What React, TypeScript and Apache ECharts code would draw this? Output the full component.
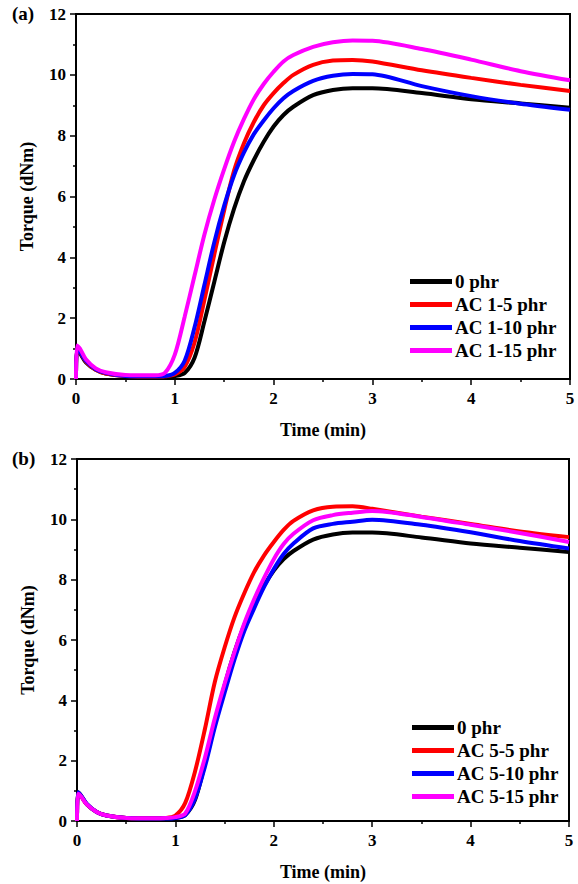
import React, { useEffect, useRef } from "react";
import * as echarts from "echarts";

const timeMin = [0, 0.01, 0.04, 0.1, 0.2, 0.3, 0.5, 0.8, 0.9, 1.0, 1.1, 1.2, 1.3, 1.4, 1.5, 1.6, 1.7, 1.8, 1.9, 2.0, 2.1, 2.2, 2.4, 2.6, 2.8, 3.0, 3.5, 4.0, 4.5, 5.0];

const zeroPhr = [0, 0.95, 0.85, 0.55, 0.3, 0.18, 0.1, 0.08, 0.08, 0.1, 0.2, 0.7, 1.9, 3.2, 4.5, 5.6, 6.5, 7.2, 7.8, 8.3, 8.68, 8.95, 9.33, 9.5, 9.56, 9.56, 9.4, 9.2, 9.06, 8.92];
const ac1_5 = [0, 1.0, 0.9, 0.58, 0.3, 0.18, 0.1, 0.08, 0.09, 0.15, 0.4, 1.2, 2.6, 4.1, 5.55, 6.85, 7.75, 8.45, 9.0, 9.4, 9.73, 10.0, 10.33, 10.47, 10.49, 10.44, 10.15, 9.9, 9.67, 9.47];
const ac1_10 = [0, 1.0, 0.9, 0.6, 0.32, 0.2, 0.1, 0.09, 0.1, 0.2, 0.6, 1.7, 3.1, 4.5, 5.7, 6.7, 7.45, 8.05, 8.5, 8.9, 9.23, 9.47, 9.8, 9.97, 10.03, 10.02, 9.63, 9.3, 9.05, 8.85];
const ac1_15 = [0, 1.1, 1.0, 0.65, 0.35, 0.22, 0.13, 0.12, 0.2, 0.8, 2.05, 3.4, 4.75, 5.9, 6.9, 7.8, 8.55, 9.2, 9.7, 10.1, 10.44, 10.65, 10.92, 11.07, 11.13, 11.12, 10.85, 10.5, 10.12, 9.82];

const ac5_5 = [0, 0.9, 0.82, 0.55, 0.3, 0.18, 0.1, 0.09, 0.1, 0.18, 0.6, 1.65, 3.05, 4.6, 5.75, 6.75, 7.55, 8.25, 8.8, 9.25, 9.65, 9.95, 10.3, 10.42, 10.43, 10.35, 10.09, 9.85, 9.6, 9.41];
const ac5_10 = [0, 0.95, 0.85, 0.57, 0.3, 0.18, 0.1, 0.08, 0.08, 0.1, 0.2, 0.75, 1.8, 3.1, 4.25, 5.35, 6.3, 7.05, 7.75, 8.35, 8.85, 9.2, 9.7, 9.85, 9.92, 9.99, 9.82, 9.57, 9.28, 9.03];
const ac5_15 = [0, 0.9, 0.82, 0.55, 0.3, 0.18, 0.1, 0.09, 0.1, 0.13, 0.25, 1.0, 2.1, 3.4, 4.55, 5.6, 6.55, 7.35, 8.05, 8.68, 9.18, 9.52, 9.97, 10.14, 10.22, 10.28, 10.08, 9.82, 9.55, 9.25];

const namesA = ["0 phr", "AC 1-5 phr", "AC 1-10 phr", "AC 1-15 phr"];
const namesB = ["0 phr", "AC 5-5 phr", "AC 5-10 phr", "AC 5-15 phr"];
const colors = ["#000000", "#ff0000", "#0000ff", "#ff00ff"];

const FONT = "'Liberation Serif', 'Times New Roman', serif";

function pairs(vals: number[]) {
  return timeMin.map((t, i) => [t, vals[i]]);
}

export default function App() {
  const ref = useRef<HTMLDivElement>(null);
  useEffect(() => {
    if (!ref.current) return;
    const chart = echarts.init(ref.current, null, { renderer: "svg" });
    const axisLabel = { color: "#000", fontFamily: FONT, fontWeight: "bold", fontSize: 17 };
    const nameStyle = { color: "#000", fontFamily: FONT, fontWeight: "bold", fontSize: 18 };
    const mkX = (gi: number) => ({
      type: "value",
      gridIndex: gi,
      min: 0,
      max: 5,
      interval: 1,
      name: "Time (min)",
      nameLocation: "middle",
      nameGap: 42,
      nameTextStyle: nameStyle,
      axisLine: { show: true, onZero: false, lineStyle: { color: "#000", width: 2 } },
      axisTick: { show: true, inside: false, length: 6, lineStyle: { color: "#000", width: 1.5 } },
      minorTick: { show: true, splitNumber: 2, length: 3, lineStyle: { color: "#000", width: 1.5 } },
      splitLine: { show: false },
      axisLabel: { ...axisLabel, margin: 11 },
    });
    const mkY = (gi: number) => ({
      type: "value",
      gridIndex: gi,
      min: 0,
      max: 12,
      interval: 2,
      name: "Torque (dNm)",
      nameLocation: "middle",
      nameGap: 40,
      nameTextStyle: nameStyle,
      axisLine: { show: true, onZero: false, lineStyle: { color: "#000", width: 2 } },
      axisTick: { show: true, inside: false, length: 6, lineStyle: { color: "#000", width: 1.5 } },
      minorTick: { show: true, splitNumber: 2, length: 3, lineStyle: { color: "#000", width: 1.5 } },
      splitLine: { show: false },
      axisLabel: { ...axisLabel, margin: 10 },
    });
    const mkSeries = (vals: number[][], names: string[], axis: number) =>
      vals.map((v, i) => ({
        type: "line",
        name: names[i],
        xAxisIndex: axis,
        yAxisIndex: axis,
        data: pairs(v),
        showSymbol: false,
        smooth: 0.3,
        lineStyle: { color: colors[i], width: 4 },
        itemStyle: { color: colors[i] },
      }));
    const legendBase = {
      orient: "vertical",
      icon: "rect",
      itemWidth: 42,
      itemHeight: 5,
      itemGap: 4,
      textStyle: { color: "#000", fontFamily: FONT, fontWeight: "bold", fontSize: 19, padding: [0, 0, 0, -2] },
      selectedMode: false,
    };
    chart.setOption({
      animation: false,
      backgroundColor: "#fff",
      grid: [
        { left: 76, top: 14, width: 494, height: 365, show: true, borderColor: "#000", borderWidth: 2, backgroundColor: "transparent" },
        { left: 77, top: 459, width: 492, height: 362, show: true, borderColor: "#000", borderWidth: 2, backgroundColor: "transparent" },
      ],
      xAxis: [mkX(0), mkX(1)],
      yAxis: [mkY(0), mkY(1)],
      legend: [
        { ...legendBase, data: namesA, left: 405, top: 267 },
        { ...legendBase, data: namesB, left: 407, top: 713 },
      ],
      graphic: [
        { type: "text", left: 12, top: 4, style: { text: "(a)", font: `bold 19px ${FONT}`, fill: "#000" } },
        { type: "text", left: 12, top: 449, style: { text: "(b)", font: `bold 19px ${FONT}`, fill: "#000" } },
      ],
      series: [
        ...mkSeries([zeroPhr, ac1_5, ac1_10, ac1_15], namesA, 0),
        ...mkSeries([zeroPhr, ac5_5, ac5_10, ac5_15], namesB, 1),
      ],
    });
    return () => chart.dispose();
  }, []);
  return (
    <div
      ref={ref}
      style={{ position: "fixed", left: 0, top: 0, width: 578, height: 884, background: "#fff" }}
    />
  );
}
